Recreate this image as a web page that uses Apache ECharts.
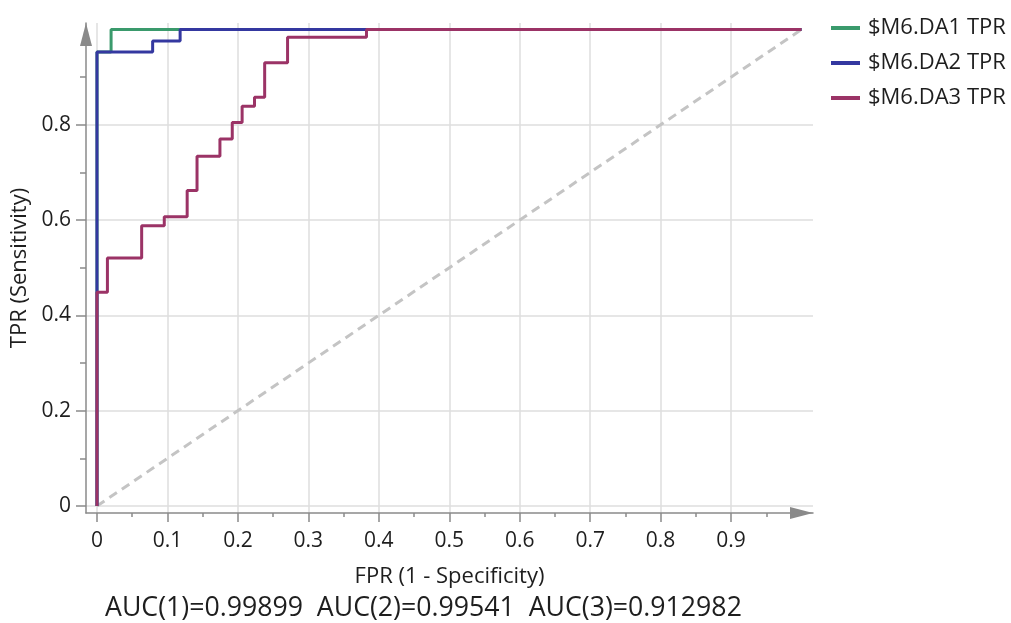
<!DOCTYPE html>
<html>
<head>
<meta charset="utf-8">
<script src="https://cdn.jsdelivr.net/npm/echarts@6/dist/echarts.min.js"></script>
<style>
  html, body { margin: 0; padding: 0; background: #fff; }
  #chart { width: 1011px; height: 623px; }
</style>
</head>
<body>
<div id="chart"></div>
<script>
// ROC curves: (FPR, TPR) corner points of each staircase
const seriesNames = ['$M6.DA1 TPR', '$M6.DA2 TPR', '$M6.DA3 TPR'];
const seriesColors = ['#3a9a6c', '#3438a0', '#9b3366'];

const fprDA1 = [0, 0, 0.02, 0.02, 1];
const tprDA1 = [0, 0.953, 0.953, 1, 1];

const fprDA2 = [0, 0, 0.079, 0.079, 0.118, 0.118, 1];
const tprDA2 = [0, 0.953, 0.953, 0.976, 0.976, 1, 1];

const fprDA3 = [0, 0, 0.0148, 0.0148, 0.0634, 0.0634, 0.0955, 0.0955, 0.128, 0.128,
                0.142, 0.142, 0.1745, 0.1745, 0.192, 0.192, 0.206, 0.206, 0.2236, 0.2236,
                0.238, 0.238, 0.2705, 0.2705, 0.3825, 0.3825, 1];
const tprDA3 = [0, 0.4485, 0.4485, 0.5205, 0.5205, 0.588, 0.588, 0.607, 0.607, 0.662,
                0.662, 0.734, 0.734, 0.770, 0.770, 0.805, 0.805, 0.839, 0.839, 0.858,
                0.858, 0.930, 0.930, 0.9836, 0.9836, 1, 1];

// chance diagonal
const diagFpr = [0, 1];
const diagTpr = [0, 1];

// axis ticks and labels
const xMajorTicks = [0, 0.1, 0.2, 0.3, 0.4, 0.5, 0.6, 0.7, 0.8, 0.9];
const xMinorTicks = [0.05, 0.15, 0.25, 0.35, 0.45, 0.55, 0.65, 0.75, 0.85, 0.95];
const yMajorTicks = [0, 0.2, 0.4, 0.6, 0.8];
const yMinorTicks = [0.1, 0.3, 0.5, 0.7, 0.9];

const aucText = 'AUC(1)=0.99899  AUC(2)=0.99541  AUC(3)=0.912982';

const FONT = '"Open Sans", "Noto Sans", sans-serif';
const AXIS_GREY = '#8a8a8a';
const TEXT = '#1e1e1e';
const X_MIN = -0.0156, X_MAX = 1.0163;
const Y_MIN = -0.0147, Y_MAX = 1.0136;

function pairs(xs, ys) { return xs.map((x, i) => [x, ys[i]]); }

const chart = echarts.init(document.getElementById('chart'), null, { renderer: 'canvas' });

function majorAxis(dim, ticks, min, max) {
  const isX = dim === 'x';
  return {
    type: 'value',
    position: isX ? 'bottom' : 'left',
    min: min, max: max,
    axisLine: {
      show: true, onZero: false,
      symbol: ['none', 'triangle'],
      symbolSize: [12, 23],
      symbolOffset: [0, -11.5],
      lineStyle: { color: AXIS_GREY, width: 1.5 }
    },
    axisTick: {
      show: true, inside: false, customValues: ticks,
      length: isX ? 9 : 10,
      lineStyle: { color: AXIS_GREY, width: 1.5 }
    },
    axisLabel: {
      show: true, customValues: ticks,
      margin: isX ? 18 : 15,
      color: TEXT, fontSize: 21, fontFamily: FONT,
      formatter: v => String(+v.toFixed(2))
    },
    splitLine: { show: true, lineStyle: { color: '#dedede', width: 1.5 } }
  };
}

function minorAxis(dim, ticks, min, max) {
  const isX = dim === 'x';
  return {
    type: 'value',
    position: isX ? 'bottom' : 'left',
    min: min, max: max,
    axisLine: { show: false, onZero: false },
    axisTick: {
      show: true, inside: false, customValues: ticks,
      length: isX ? 4 : 6,
      lineStyle: { color: AXIS_GREY, width: 1.5 }
    },
    axisLabel: { show: false },
    splitLine: { show: false }
  };
}

const xMain = majorAxis('x', xMajorTicks, X_MIN, X_MAX);
xMain.name = 'FPR (1 - Specificity)';
xMain.nameLocation = 'middle';
xMain.nameGap = 53;
xMain.nameTextStyle = { color: TEXT, fontSize: 22, fontFamily: FONT };

const yMain = majorAxis('y', yMajorTicks, Y_MIN, Y_MAX);
yMain.name = 'TPR (Sensitivity)';
yMain.nameLocation = 'middle';
yMain.nameGap = 48;
yMain.nameTextStyle = { color: TEXT, fontSize: 22, fontFamily: FONT };

const curves = [pairs(fprDA1, tprDA1), pairs(fprDA2, tprDA2), pairs(fprDA3, tprDA3)];

const option = {
  backgroundColor: '#ffffff',
  animation: false,
  grid: { left: 86, right: 198, top: 23, bottom: 110, containLabel: false, outerBoundsMode: 'none' },
  legend: {
    data: seriesNames,
    orient: 'vertical',
    left: 831, top: 16,
    padding: 0,
    icon: 'rect',
    itemWidth: 29, itemHeight: 4,
    itemGap: 11,
    textStyle: { color: TEXT, fontSize: 22, fontFamily: FONT, lineHeight: 24, padding: [0, 0, 0, 3] }
  },
  xAxis: [xMain, minorAxis('x', xMinorTicks, X_MIN, X_MAX)],
  yAxis: [yMain, minorAxis('y', yMinorTicks, Y_MIN, Y_MAX)],
  graphic: [{
    type: 'text',
    left: 105, top: 595,
    style: { text: aucText, fill: TEXT, fontSize: 26.7, fontFamily: FONT }
  }],
  series: [
    {
      name: 'diagonal', type: 'line', xAxisIndex: 0, yAxisIndex: 0,
      data: pairs(diagFpr, diagTpr), symbol: 'none', silent: true,
      lineStyle: { color: '#c4c4c4', width: 3, type: [9, 6] }
    }
  ].concat(curves.map((pts, i) => ({
    name: seriesNames[i], type: 'line', xAxisIndex: 0, yAxisIndex: 0,
    data: pts, symbol: 'none',
    lineStyle: { color: seriesColors[i], width: 3 },
    itemStyle: { color: seriesColors[i] }
  })))
};

chart.setOption(option);
</script>
</body>
</html>
